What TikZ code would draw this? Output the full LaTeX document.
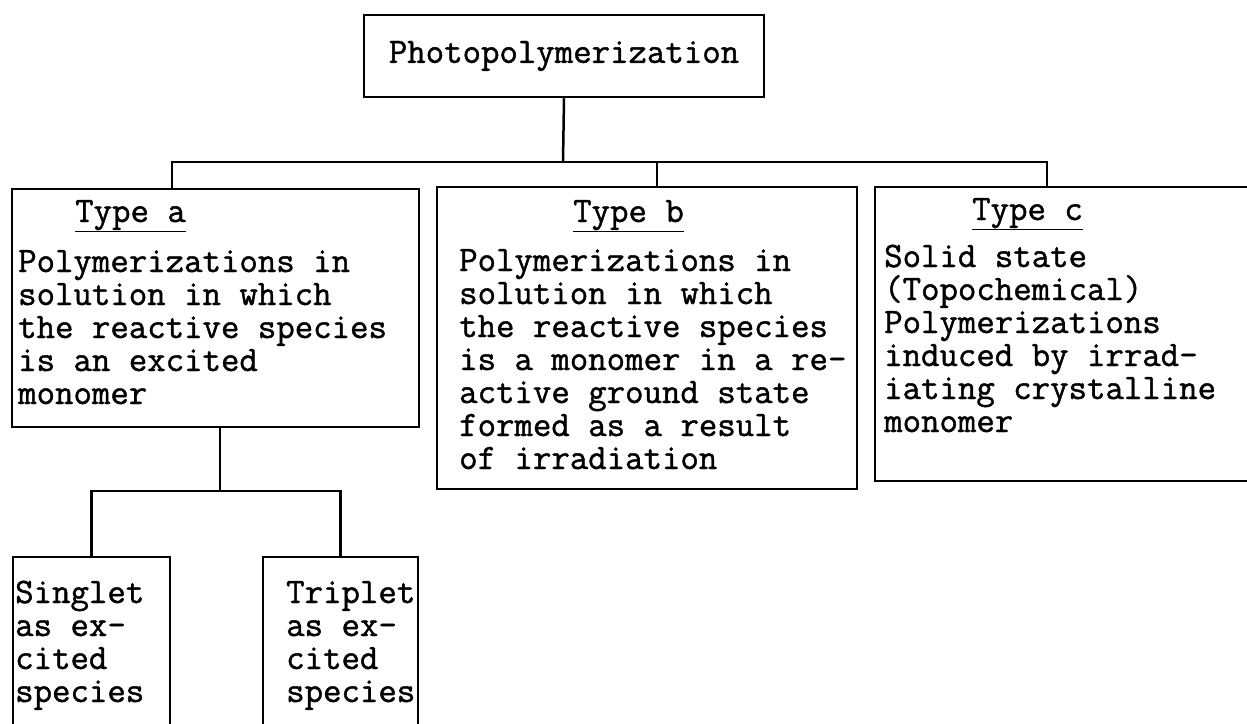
\documentclass[tikz,border=0pt]{standalone}
\usepackage{fontspec}
\setmonofont{Latin Modern Mono}[FakeBold=1.2]
\usetikzlibrary{positioning}
\tikzset{
  box/.style={draw, line width=2.5pt, inner sep=0pt},
  txt/.style={font=\ttfamily\fontsize{35.8}{33}\selectfont, align=left, inner sep=0pt, anchor=base west},
  link/.style={line width=2.5pt},
}
\begin{document}
\begin{tikzpicture}[x=1pt, y=-1pt]
    \useasboundingbox (0,0) rectangle (1247,723);
    \fill[white] (0,0) rectangle (1247,723);
    \clip (0,0) rectangle (1247,723);
    \node[box, minimum width=400pt, minimum height=82pt, font=\ttfamily\fontsize{35.8}{33}\selectfont] (photo) at (564,56) {Photopolymerization};
    \node[box, minimum width=407pt, minimum height=238pt] (ta) at (215.5,308) {};
    \node[box, minimum width=420pt, minimum height=302pt] (tb) at (647,338) {};
    \node[box, minimum width=386pt, minimum height=294pt] (tc) at (1068,334) {};
    \node[box, minimum width=157pt, minimum height=203pt] (single) at (91.5,658.5) {};
    \node[box, minimum width=155pt, minimum height=203pt] (triple) at (340.5,658.5) {};
    % base of a multi-line node is its last line
    \node[txt] (tatitle) at (75,222) {\underline{Type a}};
    \node[txt] (tabody) at (18,404) {Polymerizations in\\solution in which\\the reactive species\\is an excited\\monomer};
    \node[txt] (tbtitle) at (573,222) {\underline{Type b}};
    \node[txt] (tbbody) at (459,469) {Polymerizations in\\solution in which\\the reactive species\\is a monomer in a re-\\active ground state\\formed as a result\\of irradiation};
    \node[txt] (tctitle) at (972,220) {\underline{Type c}};
    \node[txt] (tcbody) at (884,432) {Solid state\\(Topochemical)\\Polymerizations\\induced by irrad-\\iating crystalline\\monomer};
    \node[txt] (singletxt) at (15,702) {Singlet\\as ex-\\cited\\species};
    \node[txt] (tripletxt) at (286,702) {Triplet\\as ex-\\cited\\species};
    \coordinate (jt) at (563,162);
    \coordinate (ja) at (220,491);
    \draw[link] (photo.south) -- (jt);
    \draw[link] ([xshift=-43.5pt]ta.north) |- (jt) -| ([xshift=-21pt]tc.north);
    \draw[link] ([xshift=10pt]tb.north) -- ([xshift=10pt]tb.north |- jt);
    \draw[link] ([xshift=4.5pt]ta.south) -- (ja);
    \draw[link] (single.north) |- (ja) -| (triple.north);
\end{tikzpicture}
\end{document}
